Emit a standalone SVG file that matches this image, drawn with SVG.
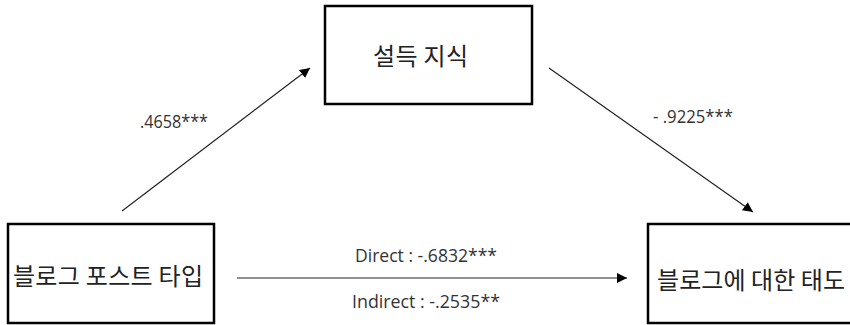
<svg xmlns="http://www.w3.org/2000/svg" width="850" height="325" viewBox="0 0 850 325">
<style>
.box{fill:#fff;stroke:#000;stroke-width:2.5}
.ko{font-family:"Noto Sans CJK KR","Noto Sans",sans-serif;font-size:24px;fill:#222}
.lb{font-family:"Open Sans","Noto Sans",sans-serif;font-size:17.5px;fill:#333}
.ln{stroke:#222;stroke-width:1.2;fill:none;marker-end:url(#ah)}
</style>
<defs>
<marker id="ah" viewBox="0 0 10 10" refX="10" refY="5" markerWidth="10" markerHeight="10" markerUnits="userSpaceOnUse" orient="auto">
<path d="M0,0 L10,5 L0,10 z" fill="#000"/>
</marker>
</defs>
<rect width="850" height="325" fill="#fff"/>
<g id="connectors">
<line class="ln" x1="122" y1="211" x2="310" y2="68"/>
<line class="ln" x1="549" y1="68" x2="753" y2="212"/>
<line class="ln" x1="237" y1="278" x2="627" y2="278"/>
<text class="lb" x="140" y="128" textLength="68" lengthAdjust="spacingAndGlyphs">.4658***</text>
<text class="lb" x="653" y="123" textLength="80" lengthAdjust="spacingAndGlyphs">- .9225***</text>
<text class="lb" x="355" y="262" textLength="142" lengthAdjust="spacingAndGlyphs">Direct : -.6832***</text>
<text class="lb" x="352" y="308" textLength="148" lengthAdjust="spacingAndGlyphs">Indirect : -.2535**</text>
</g>
<g id="node-blog-post-type">
<rect class="box" x="8" y="224" width="206" height="99"/>
<text class="ko" x="13" y="285" textLength="190" lengthAdjust="spacing">블로그 포스트 타입</text>
</g>
<g id="node-persuasion-knowledge">
<rect class="box" x="325" y="6" width="207" height="98"/>
<text class="ko" x="373" y="65" textLength="95" lengthAdjust="spacing">설득 지식</text>
</g>
<g id="node-attitude">
<rect class="box" x="648" y="224" width="220" height="99"/>
<text class="ko" x="657" y="289" textLength="188" lengthAdjust="spacing">블로그에 대한 태도</text>
</g>
</svg>
